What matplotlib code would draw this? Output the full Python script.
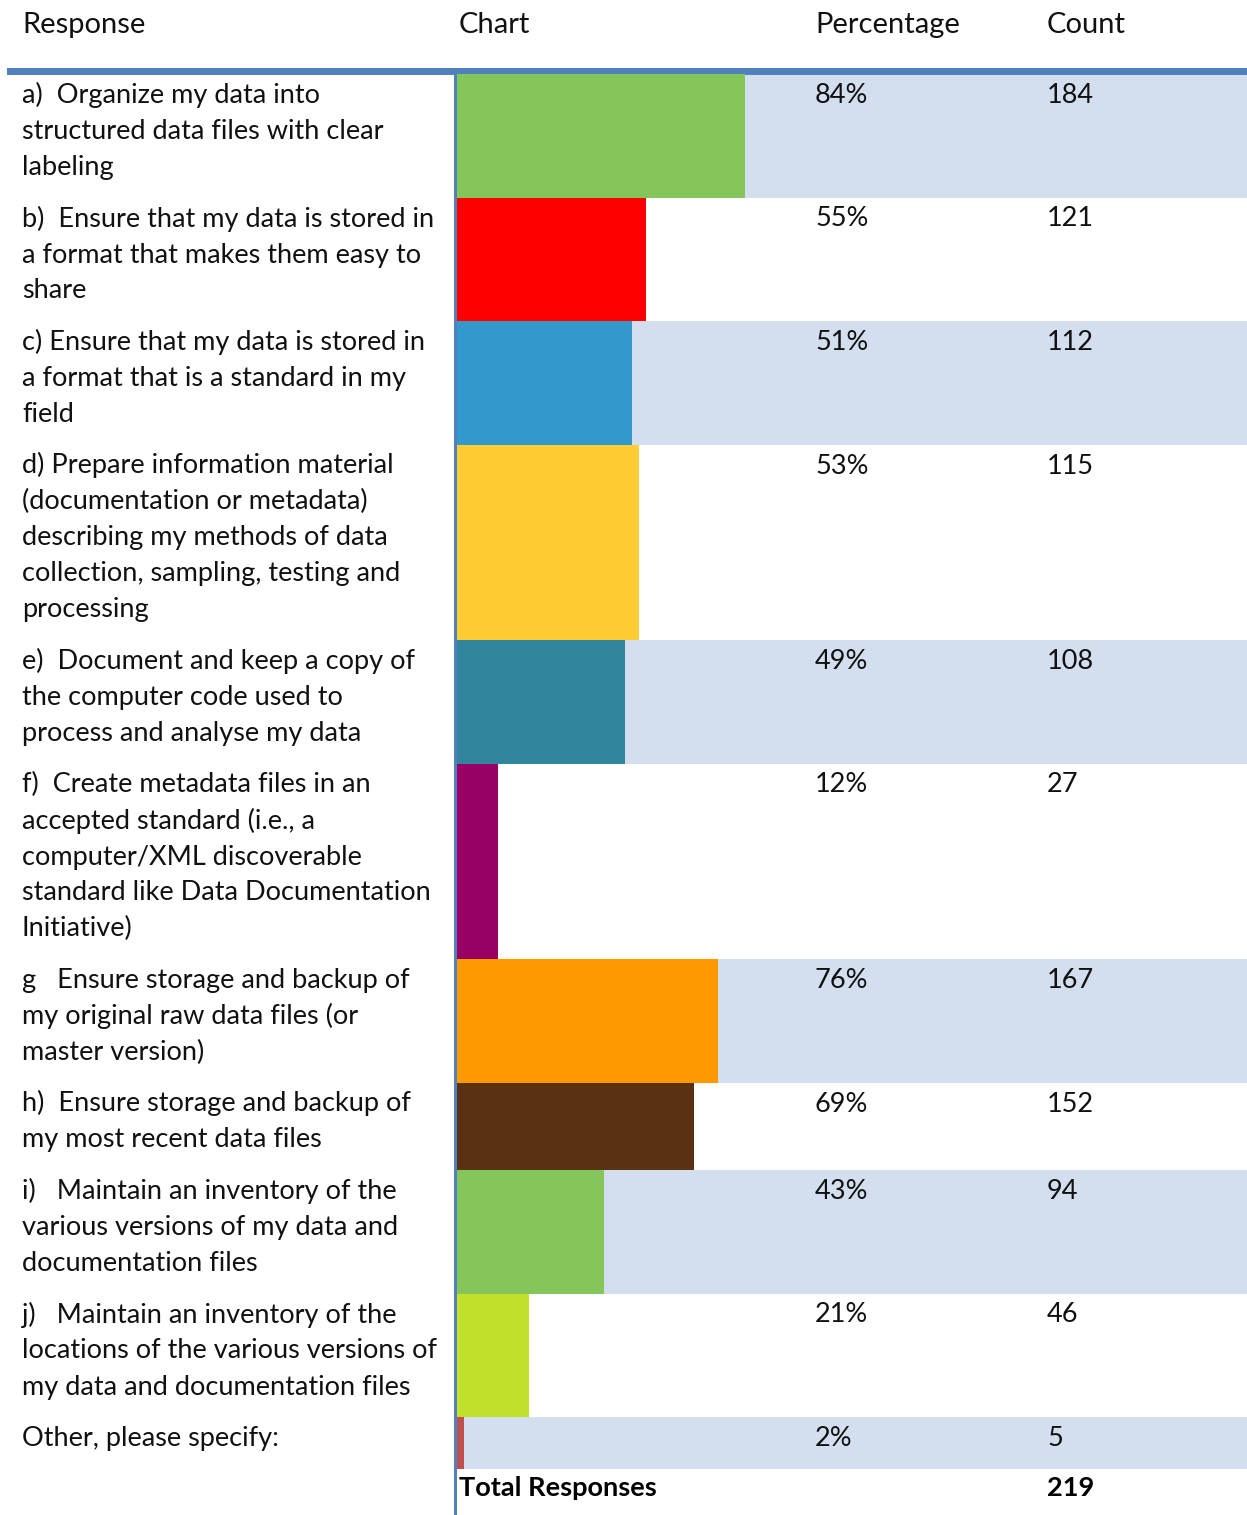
import matplotlib
matplotlib.use('Agg')
import matplotlib.pyplot as plt
from matplotlib.patches import Rectangle

# ---------------- data ----------------
headers = ["Response", "Chart", "Percentage", "Count"]
labels = [
    ["a)  Organize my data into", "structured data files with clear", "labeling"],
    ["b)  Ensure that my data is stored in", "a format that makes them easy to", "share"],
    ["c) Ensure that my data is stored in", "a format that is a standard in my", "field"],
    ["d) Prepare information material", "(documentation or metadata)",
     "describing my methods of data", "collection, sampling, testing and", "processing"],
    ["e)  Document and keep a copy of", "the computer code used to", "process and analyse my data"],
    ["f)  Create metadata files in an", "accepted standard (i.e., a",
     "computer/XML discoverable", "standard like Data Documentation", "Initiative)"],
    ["g   Ensure storage and backup of", "my original raw data files (or", "master version)"],
    ["h)  Ensure storage and backup of", "my most recent data files"],
    ["i)   Maintain an inventory of the", "various versions of my data and", "documentation files"],
    ["j)   Maintain an inventory of the", "locations of the various versions of",
     "my data and documentation files"],
    ["Other, please specify:"],
]
percentages = [84, 55, 51, 53, 49, 12, 76, 69, 43, 21, 2]
counts = [184, 121, 112, 115, 108, 27, 167, 152, 94, 46, 5]
total_label = "Total Responses"
total = 219
bar_colors = ["#84C65A", "#FF0000", "#3399CC", "#FFCC33", "#31859C", "#990066",
              "#FF9900", "#5A3113", "#84C65A", "#C0E02A", "#C0504D"]

# ---------------- layout ----------------
W, H = 1247, 1515
FONT = ["Lato", "DejaVu Sans"]
FS = 19.5
FS_HEAD = 21
LINE = 36
PAD = 15.5
TOP = 74
CHART_X = 457
BAR_FULL = 343          # pixel width of 100 %
PCT_X = 815
CNT_X = 1047
SHADE = "#D3DFEE"
RULE = "#4F81BD"

fig = plt.figure(figsize=(W / 100, H / 100), dpi=100)
ax = fig.add_axes([0, 0, 1, 1])
ax.set_xlim(0, W)
ax.set_ylim(H, 0)
ax.axis("off")

# headers
for txt, x in zip(headers, [22, 459, PCT_X, CNT_X]):
    ax.text(x, 33, txt, fontsize=FS_HEAD, family=FONT, va="baseline", ha="left", color="#111111")

# rows
tops, heights = [], []
y = TOP
for lines in labels:
    h = PAD + LINE * len(lines)
    tops.append(y)
    heights.append(h)
    y += h
total_top = y

for i, (lines, t, h) in enumerate(zip(labels, tops, heights)):
    if i % 2 == 0:
        ax.add_patch(Rectangle((CHART_X, t), W - CHART_X, h, facecolor=SHADE,
                               edgecolor="none", zorder=1))
    for k, ln in enumerate(lines):
        ax.text(22, t + 29 + LINE * k, ln, fontsize=FS, family=FONT,
                va="baseline", ha="left", color="#111111", zorder=3)
    ax.text(PCT_X, t + 29, f"{percentages[i]}%", fontsize=FS, family=FONT,
            va="baseline", ha="left", color="#111111", zorder=3)
    ax.text(CNT_X, t + 29, f"{counts[i]}", fontsize=FS, family=FONT,
            va="baseline", ha="left", color="#111111", zorder=3)

# total row
ax.text(459, total_top + 28, total_label, fontsize=FS, family=FONT, weight="bold",
        va="baseline", ha="left", color="#000000", zorder=3)
ax.text(CNT_X, total_top + 28, f"{total}", fontsize=FS, family=FONT, weight="bold",
        va="baseline", ha="left", color="#000000", zorder=3)

# rules
ax.add_patch(Rectangle((7, 68), W - 7, 7, facecolor=RULE, edgecolor="none", zorder=4))
ax.add_patch(Rectangle((454, 75), 3, H - 75, facecolor=RULE, edgecolor="none", zorder=4))

# bar axes (0-100 %)
bax = fig.add_axes([CHART_X / W, 0, BAR_FULL / W, 1])
bax.set_xlim(0, 100)
bax.set_ylim(H, 0)
bax.axis("off")
bax.patch.set_alpha(0)
centers = [t + h / 2 for t, h in zip(tops, heights)]
bax.barh(centers, percentages, height=heights, left=0, color=bar_colors,
         edgecolor="none", zorder=2)

fig.savefig("out.png", dpi=100)
